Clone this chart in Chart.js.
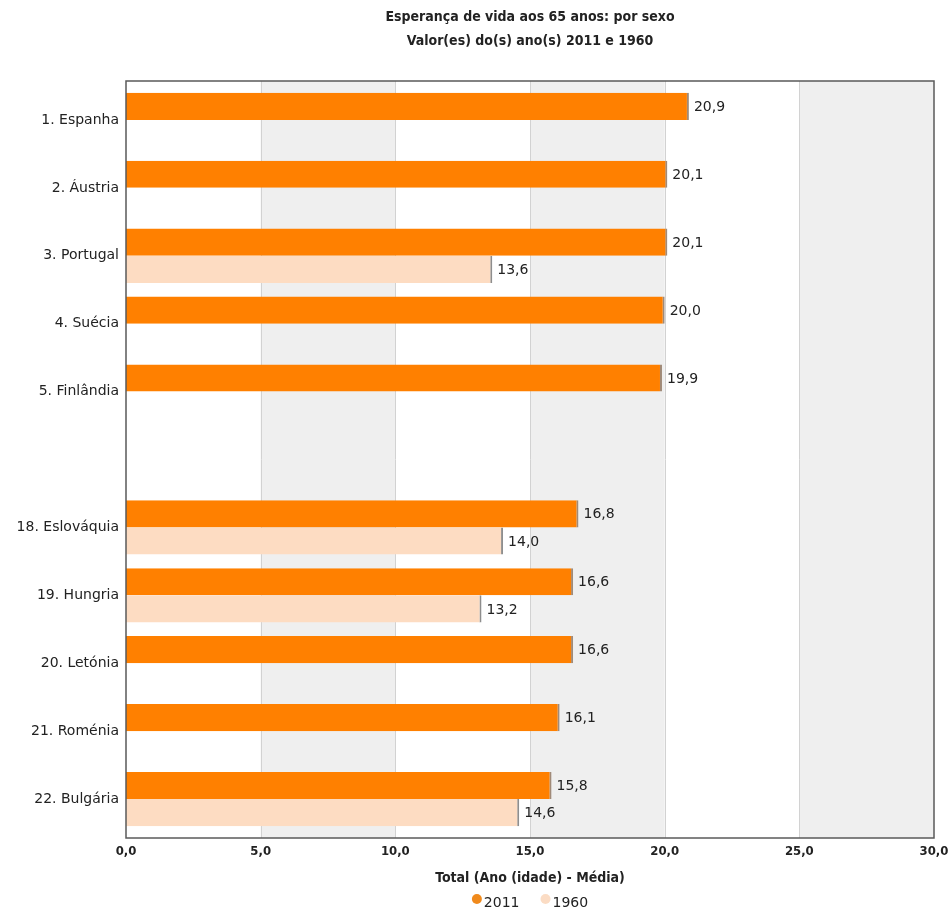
<!DOCTYPE html>
<html>
<head>
<meta charset="utf-8">
<script src="https://cdn.jsdelivr.net/npm/chart.js@4.4.1/dist/chart.umd.min.js"></script>
<style>
  body { margin: 0; background: #fff; }
  #wrap { width: 951px; height: 915px; }
</style>
</head>
<body>
<div id="wrap"><canvas id="lifeChart" width="951" height="915"></canvas></div>
<script>
// data
const countries = ['1. Espanha', '2. Áustria', '3. Portugal', '4. Suécia', '5. Finlândia', '',
    '18. Eslováquia', '19. Hungria', '20. Letónia', '21. Roménia', '22. Bulgária'];
const values2011 = [20.9, 20.1, 20.1, 20.0, 19.9, null, 16.8, 16.6, 16.6, 16.1, 15.8];
const values1960 = [null, null, 13.6, null, null, null, 14.0, 13.2, null, null, 14.6];
const xTicks = [0, 5, 10, 15, 20, 25, 30];

const titleLines = ['Esperança de vida aos 65 anos: por sexo', 'Valor(es) do(s) ano(s) 2011 e 1960'];
const axisTitle = 'Total (Ano (idade) - Média)';

const ORANGE = '#ff8000';
const PEACH = '#fddcc2';
const fmt = v => v.toFixed(1).replace('.', ',');
const condBold = 'bold 14px "DejaVu Sans Condensed", "DejaVu Sans", sans-serif';
const plainFont = '14px "DejaVu Sans", Verdana, sans-serif';

// background bands, grid lines, plot border
const plotFrame = {
    id: 'plotFrame',
    beforeDraw(chart) {
        const { ctx, chartArea: a, scales: { x } } = chart;
        const top = a.top - 5, bottom = a.bottom + 5;
        ctx.save();
        for (let i = 0; i < xTicks.length - 1; i++) {
            if (i % 2 === 1) {
                const x0 = x.getPixelForValue(xTicks[i]);
                const x1 = x.getPixelForValue(xTicks[i + 1]);
                ctx.fillStyle = '#efefef';
                ctx.fillRect(x0, top, x1 - x0, bottom - top);
            }
        }
        ctx.strokeStyle = '#d2d2d2';
        ctx.lineWidth = 1;
        xTicks.slice(1, -1).forEach(t => {
            const px = Math.round(x.getPixelForValue(t)) + 0.5;
            ctx.beginPath();
            ctx.moveTo(px, top);
            ctx.lineTo(px, bottom);
            ctx.stroke();
        });
        ctx.restore();
    },
    afterDatasetsDraw(chart) {
        const { ctx, chartArea: a } = chart;
        ctx.save();
        ctx.strokeStyle = '#5a5a5a';
        ctx.lineWidth = 1.5;
        ctx.strokeRect(a.left, a.top - 5, a.right - a.left, a.bottom - a.top + 10);

        // value labels
        ctx.fillStyle = '#222';
        ctx.font = plainFont;
        ctx.textBaseline = 'middle';
        ctx.textAlign = 'left';
        chart.data.datasets.forEach((ds, i) => {
            chart.getDatasetMeta(i).data.forEach((bar, j) => {
                const v = ds.data[j];
                if (v == null) return;
                ctx.fillText(fmt(v), bar.x + 5, bar.y + 1);
            });
        });
        ctx.restore();
    },
    afterDraw(chart) {
        const { ctx, chartArea: a } = chart;
        const cx = (a.left + a.right) / 2;
        ctx.save();
        ctx.fillStyle = '#222';
        ctx.textAlign = 'center';
        ctx.textBaseline = 'middle';
        ctx.font = condBold;
        ctx.fillText(titleLines[0], cx, 17);
        ctx.fillText(titleLines[1], cx, 41);
        ctx.fillText(axisTitle, cx, 878);

        // legend
        ctx.font = plainFont;
        ctx.textAlign = 'left';
        const items = chart.data.datasets.map(ds => ({ label: ds.label, color: ds.legendColor }));
        const widths = items.map(it => 12 + ctx.measureText(it.label).width);
        const gap = 21;
        const total = widths.reduce((s, w) => s + w, 0) + gap * (items.length - 1);
        let x0 = cx - total / 2;
        items.forEach((it, i) => {
            ctx.fillStyle = it.color;
            ctx.beginPath();
            ctx.arc(x0 + 5, 899, 5, 0, Math.PI * 2);
            ctx.fill();
            ctx.fillStyle = '#222';
            ctx.fillText(it.label, x0 + 12, 903);
            x0 += widths[i] + gap;
        });
        ctx.restore();
    }
};

new Chart(document.getElementById('lifeChart'), {
    type: 'bar',
    data: {
        labels: countries,
        datasets: [
            {
                label: '2011',
                data: values2011,
                backgroundColor: ORANGE,
                borderColor: '#a08a78',
                borderWidth: { right: 2, top: 0, bottom: 0, left: 0 },
                borderSkipped: false,
                legendColor: '#f08a1c'
            },
            {
                label: '1960',
                data: values1960,
                backgroundColor: PEACH,
                borderColor: '#8e8e8e',
                borderWidth: { right: 2, top: 0, bottom: 0, left: 0 },
                borderSkipped: false,
                legendColor: '#fbdcc4'
            }
        ]
    },
    options: {
        indexAxis: 'y',
        responsive: false,
        animation: false,
        layout: { padding: { top: 86, right: 17, bottom: 0, left: 0 } },
        datasets: { bar: { categoryPercentage: 0.8, barPercentage: 1.0 } },
        plugins: {
            legend: { display: false },
            title: { display: false },
            tooltip: { enabled: false }
        },
        scales: {
            x: {
                min: 0,
                max: 30,
                afterFit: s => { s.height = 82; s.paddingLeft = 0; s.paddingRight = 0; },
                afterBuildTicks: s => { s.ticks = xTicks.map(v => ({ value: v })); },
                grid: { display: false, drawTicks: false },
                border: { display: false },
                ticks: {
                    padding: 11,
                    color: '#222',
                    font: { family: '"DejaVu Sans Condensed", "DejaVu Sans", sans-serif', size: 13, weight: 'bold' },
                    callback: v => fmt(v)
                }
            },
            y: {
                afterFit: s => { s.width = 126; },
                grid: { display: false, drawTicks: false },
                border: { display: false },
                ticks: {
                    padding: 7,
                    color: '#222',
                    font: { family: '"DejaVu Sans", Verdana, sans-serif', size: 14 }
                }
            }
        }
    },
    plugins: [plotFrame]
});
</script>
</body>
</html>
